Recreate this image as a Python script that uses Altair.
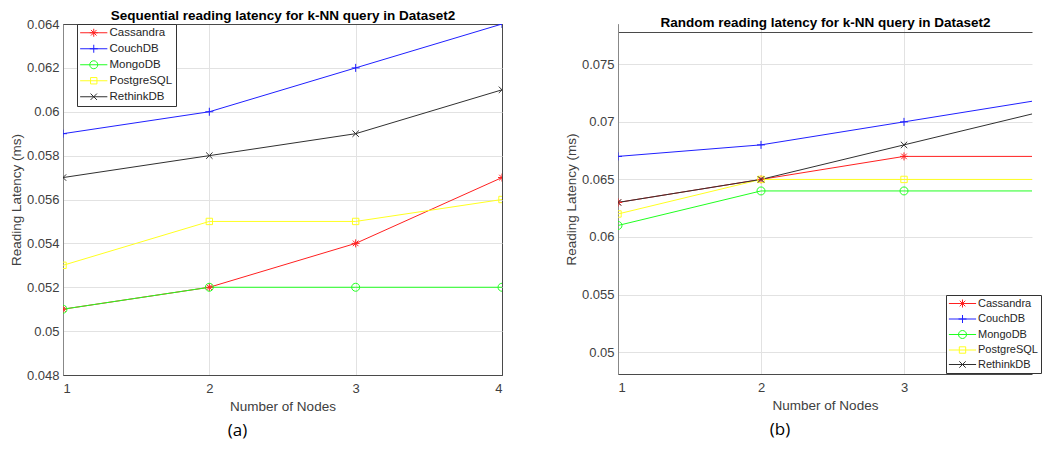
import altair as alt
import pandas as pd

nodes = [1, 2, 3, 4]
databases = ["Cassandra", "CouchDB", "MongoDB", "PostgreSQL", "RethinkDB"]
line_colors = ["#ff2020", "#2020ff", "#20ff20", "#ffff20", "#303030"]

seq_cassandra = [0.051, 0.052, 0.054, 0.057]
seq_couchdb = [0.059, 0.060, 0.062, 0.064]
seq_mongodb = [0.051, 0.052, 0.052, 0.052]
seq_postgresql = [0.053, 0.055, 0.055, 0.056]
seq_rethinkdb = [0.057, 0.058, 0.059, 0.061]

rnd_cassandra = [0.063, 0.065, 0.067, 0.067]
rnd_couchdb = [0.067, 0.068, 0.070, 0.072]
rnd_mongodb = [0.061, 0.064, 0.064, 0.064]
rnd_postgresql = [0.062, 0.065, 0.065, 0.065]
rnd_rethinkdb = [0.063, 0.065, 0.068, 0.071]

seq_ticks = [0.048, 0.050, 0.052, 0.054, 0.056, 0.058, 0.060, 0.062, 0.064]
rnd_ticks = [0.050, 0.055, 0.060, 0.065, 0.070, 0.075]
seq_node_ticks = [1, 2, 3, 4]
rnd_node_ticks = [1, 2, 3]  # the 4 lies beyond the cropped right edge

seq_title = "Sequential reading latency for k-NN query in Dataset2"
rnd_title = "Random reading latency for k-NN query in Dataset2"
x_title = "Number of Nodes"
y_title = "Reading Latency (ms)"
sub_labels = ["(a)", "(b)"]

# marker glyphs (MATLAB style: * + o square x)
marker_paths = [
    "M-1,0L1,0M0,-1L0,1M-0.7,-0.7L0.7,0.7M0.7,-0.7L-0.7,0.7",
    "M-1,0L1,0M0,-1L0,1",
    "M-1,0A1,1,0,1,0,1,0A1,1,0,1,0,-1,0Z",
    "M-0.8,-0.8L0.8,-0.8L0.8,0.8L-0.8,0.8Z",
    "M-0.8,-0.8L0.8,0.8M0.8,-0.8L-0.8,0.8",
]
legend_line = "M-3.4,0L3.4,0"


def long_table(series):
    rows = []
    for db, vals in zip(databases, series):
        for n, v in zip(nodes, vals):
            rows.append({"nodes": n, "db": db, "latency": v})
    return pd.DataFrame(rows)


seq_df = long_table([seq_cassandra, seq_couchdb, seq_mongodb, seq_postgresql, seq_rethinkdb])
rnd_df = long_table([rnd_cassandra, rnd_couchdb, rnd_mongodb, rnd_postgresql, rnd_rethinkdb])

shape_expr = " : ".join(
    f"datum.value === '{db}' ? '{legend_line}{p}'" for db, p in zip(databases, marker_paths)
) + " : 'circle'"

FONT = "Liberation Sans"
BOX = "#4a4a4a"
GRID = "#e2e2e2"


def make_legend(lx, ly, row_pad, font_size, label_offset):
    return alt.Legend(
        title=None,
        orient="none",
        legendX=lx,
        legendY=ly,
        symbolType={"expr": shape_expr},
        symbolSize=64,
        symbolStrokeWidth=1,
        symbolOffset=8,
        labelOffset=label_offset,
        labelFont=FONT,
        labelFontSize=font_size,
        labelColor="#262626",
        rowPadding=row_pad,
        padding=3,
        fillColor="white",
        strokeColor="#333333",
    )


def panel(df, ticks, node_ticks, ydomain, xdomain, width, height, top_axis, sub_label, legend,
          x_edge_test, y_edge_test, box_stroke, bottom_domain):
    color = alt.Color("db:N", scale=alt.Scale(domain=databases, range=line_colors),
                      sort=databases, legend=legend)
    xscale = alt.Scale(domain=xdomain, nice=False, zero=False)
    x = alt.X("nodes:Q", title=x_title, scale=xscale,
              axis=alt.Axis(values=node_ticks, format="d", labelPadding=7, titlePadding=4,
                            domain=bottom_domain, domainColor=BOX,
                            gridColor={"condition": {"test": x_edge_test, "value": BOX},
                                       "value": GRID}))
    x_top = alt.X("nodes:Q", scale=xscale, axis=top_axis)
    x_plain = alt.X("nodes:Q", scale=xscale, axis=None)
    y = alt.Y("latency:Q", title=y_title,
              scale=alt.Scale(domain=ydomain, nice=False, zero=False),
              axis=alt.Axis(values=ticks, format="~g", labelPadding=4, titlePadding=3,
                            gridColor={"condition": {"test": y_edge_test, "value": BOX},
                                       "value": GRID}))
    lines = alt.Chart(df).mark_line(strokeWidth=1, clip=True).encode(x=x, y=y, color=color)
    marker_layers = []
    for i, (db, path, col) in enumerate(zip(databases, marker_paths, line_colors)):
        marker_layers.append(
            alt.Chart(df).transform_filter(alt.datum.db == db).mark_point(
                shape=path, color=col, filled=False, size=64, strokeWidth=1, opacity=1, clip=True
            ).encode(x=x_top if i == 0 else x_plain, y=y)
        )
    return alt.layer(lines, *marker_layers).resolve_axis(x="independent").properties(
        width=width, height=height,
        view=alt.ViewBackground(stroke=box_stroke, strokeWidth=1),
        title=alt.TitleParams(sub_label, orient="bottom", anchor="middle", frame="group",
                              dx=-45, offset=10, font="Open Sans", fontSize=17,
                              fontWeight="normal", color="#000000"),
    )


left_top = alt.Axis(orient="top", title=seq_title, labels=False, ticks=False, grid=False,
                    domain=False, titlePadding=1.5, titleFontWeight="bold", titleColor="#000000",
                    titleFontSize=13.5)
right_top = alt.Axis(orient="top", title=["", rnd_title], labels=False, ticks=False, grid=False,
                     domain=True, domainColor=BOX, offset=-8, titlePadding=3,
                     titleLineHeight=6.5, titleFontWeight="bold", titleColor="#000000",
                     titleFontSize=13.5)

left = panel(seq_df, seq_ticks, seq_node_ticks, [0.048, 0.064], [1, 4], 439, 351, left_top,
             sub_labels[0], make_legend(14, 0, 3, 11.5, 10),
             "datum.value <= 1 || datum.value >= 4",
             "datum.value < 0.0481 || datum.value > 0.0639",
             BOX, False)
right = panel(rnd_df, rnd_ticks, rnd_node_ticks, [0.0481, 0.0785], [1, 3.895], 414, 350, right_top,
              sub_labels[1], make_legend(328, 271, 2.5, 11, 10),
              "datum.value <= 1",
              "datum.value < 0.0481",
              "transparent", True)

chart = alt.hconcat(left, right, spacing=60).resolve_scale(
    color="independent"
).resolve_legend(color="independent").properties(
    padding={"left": 0, "top": 0, "right": 0, "bottom": 0}
).configure_axis(
    labelFont=FONT, labelFontSize=13, labelColor="#404040",
    titleFont=FONT, titleFontSize=13.5, titleFontWeight="normal", titleColor="#404040",
    gridWidth=1, ticks=False,
)

chart.save("out.html", embed_options={"renderer": "svg", "actions": False})
